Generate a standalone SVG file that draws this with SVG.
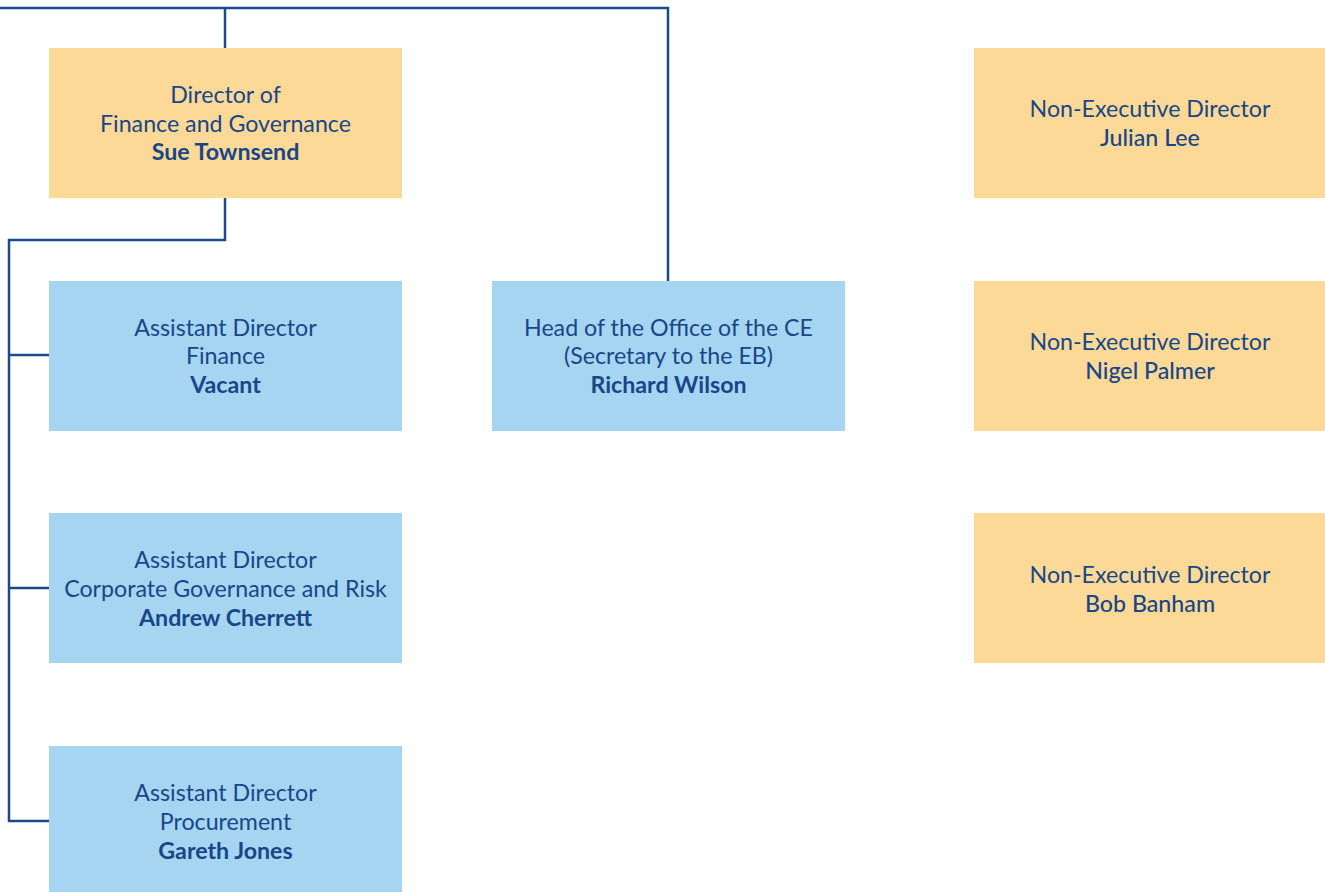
<svg xmlns="http://www.w3.org/2000/svg" width="1325" height="892" viewBox="0 0 1325 892">
<style>
.conn{fill:none;stroke:#1b4a8c;stroke-width:2.5}
.o{fill:#fcd996}
.b{fill:#a5d5f1}
text{font-family:Lato,"Liberation Sans",sans-serif;font-size:23.2px;fill:#174689;text-anchor:middle}
.bold{font-weight:bold}
.med{font-weight:500}
</style>
<rect width="1325" height="892" fill="#ffffff"/>
<g id="connectors">
<path class="conn" d="M0,8 H668 V281"/>
<path class="conn" d="M225,8 V48"/>
<path class="conn" d="M225,198 V240 H9 V821 H49"/>
<path class="conn" d="M9,355 H49"/>
<path class="conn" d="M9,588 H49"/>
</g>
<g id="director">
<rect class="o" x="49" y="48" width="353" height="150"/>
<text x="225.5" y="103">Director of</text>
<text x="225.5" y="132">Finance and Governance</text>
<text x="225.5" y="160" class="bold">Sue Townsend</text>
</g>
<g id="ad-finance">
<rect class="b" x="49" y="281" width="353" height="150"/>
<text x="225.5" y="336">Assistant Director</text>
<text x="225.5" y="364">Finance</text>
<text x="225.5" y="393" class="bold">Vacant</text>
</g>
<g id="ad-governance">
<rect class="b" x="49" y="513" width="353" height="150"/>
<text x="225.5" y="568">Assistant Director</text>
<text x="225.5" y="597">Corporate Governance and Risk</text>
<text x="225.5" y="626" class="bold">Andrew Cherrett</text>
</g>
<g id="ad-procurement">
<rect class="b" x="49" y="746" width="353" height="146"/>
<text x="225.5" y="801">Assistant Director</text>
<text x="225.5" y="830">Procurement</text>
<text x="225.5" y="859" class="bold">Gareth Jones</text>
</g>
<g id="head-office">
<rect class="b" x="492" y="281" width="353" height="150"/>
<text x="668.5" y="336">Head of the Office of the CE</text>
<text x="668.5" y="364">(Secretary to the EB)</text>
<text x="668.5" y="393" class="bold">Richard Wilson</text>
</g>
<g id="ned-lee">
<rect class="o" x="974" y="48" width="351" height="150"/>
<text x="1150" y="117">Non-Executive Director</text>
<text x="1150" y="146" class="med">Julian Lee</text>
</g>
<g id="ned-palmer">
<rect class="o" x="974" y="281" width="351" height="150"/>
<text x="1150" y="350">Non-Executive Director</text>
<text x="1150" y="379" class="med">Nigel Palmer</text>
</g>
<g id="ned-banham">
<rect class="o" x="974" y="513" width="351" height="150"/>
<text x="1150" y="583">Non-Executive Director</text>
<text x="1150" y="612" class="med">Bob Banham</text>
</g>
</svg>
